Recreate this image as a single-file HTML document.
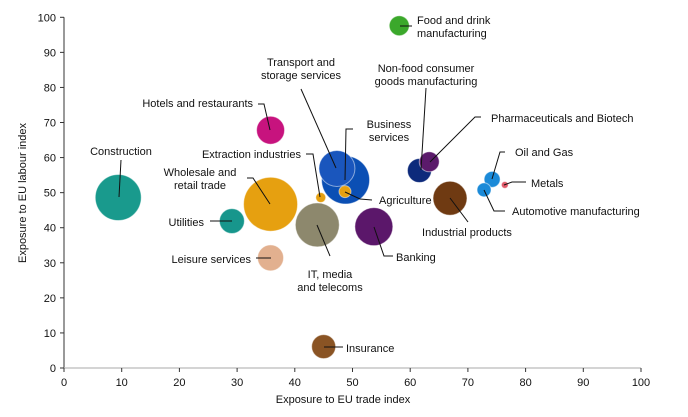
<!DOCTYPE html>
<html><head><meta charset="utf-8"><style>
html,body{margin:0;padding:0;background:#fff;}
svg{display:block;font-family:"Liberation Sans",Arial,sans-serif;}
</style></head><body>
<svg id="chart" width="688" height="417" viewBox="0 0 688 417">
<g id="axes"></g><g id="bubbles"></g><g id="labels"></g>
</svg>
<script>
const names=["Construction","Hotels and restaurants","Utilities","Wholesale and retail trade","Leisure services","Extraction industries","IT, media and telecoms","Insurance","Business services","Transport and storage services","Agriculture","Banking","Food and drink manufacturing","Non-food consumer goods manufacturing","Pharmaceuticals and Biotech","Industrial products","Oil and Gas","Automotive manufacturing","Metals"];
const tradeIdx=[9.4,35.8,29.1,35.8,35.8,44.5,43.9,45.0,48.8,47.3,48.7,53.7,58.1,61.6,63.3,66.9,74.2,72.8,76.4];
const labourIdx=[48.6,67.8,41.9,46.7,31.4,48.6,40.8,6.1,53.6,56.9,50.3,40.3,97.6,56.3,58.8,48.4,53.8,50.8,52.2];
const sizes=[529,196,156,729,169,25,484,144,576,324,36,361,100,144,100,289,64,49,12];
const colors=["#199a8d","#c7137e","#17968c","#e6a010","#e2b08f","#e6a010","#8d886d","#8a5424","#0b4fb4","#1a56bd","#e6a010","#5b176a","#3ba82b","#0d2a7b","#5b1a6b","#6f3a12","#1b8ad8","#1b8ad8","#e05a6a"];
const xTicks=[0,10,20,30,40,50,60,70,80,90,100];
const yTicks=[0,10,20,30,40,50,60,70,80,90,100];
const X0=64,X1=641,Y0=368,Y1=17.3;
function xs(v){return X0+(X1-X0)*v/100;}
function ys(v){return Y0-(Y0-Y1)*v/100;}
function rs(s){return Math.sqrt(s);}
const NS="http://www.w3.org/2000/svg";
function mk(tag,attrs,parent){const e=document.createElementNS(NS,tag);for(const k in attrs)e.setAttribute(k,attrs[k]);parent.appendChild(e);return e;}
const ax=document.getElementById('axes');
let l=mk('line',{x1:X0,y1:Y1,x2:X0,y2:Y0,stroke:'#333','stroke-width':1},ax);


l=mk('line',{x1:X0,y1:Y0,x2:X1,y2:Y0,stroke:'#bbb','stroke-width':1.2},ax);


xTicks.forEach(t=>{mk('line',{x1:xs(t),y1:Y0,x2:xs(t),y2:Y0+4,stroke:'#333'},ax);
 const tx=mk('text',{x:xs(t),y:386,'font-size':11,'text-anchor':'middle',fill:'#111'},ax);tx.textContent=t;
 
 });
yTicks.forEach(t=>{mk('line',{x1:X0-4,y1:ys(t),x2:X0,y2:ys(t),stroke:'#333'},ax);
 const tx=mk('text',{x:X0-8,y:ys(t)+4,'font-size':11,'text-anchor':'end',fill:'#111'},ax);tx.textContent=t;
 
 });
let xt=mk('text',{x:343,y:403,'font-size':11,'text-anchor':'middle',fill:'#111'},ax);xt.textContent='Exposure to EU trade index';


let yt=mk('text',{x:0,y:0,'font-size':11,'text-anchor':'middle',fill:'#111',transform:'translate(26,193) rotate(-90)'},ax);yt.textContent='Exposure to EU labour index';


const bg=document.getElementById('bubbles');
const order=[8,9,0,3,6,11,15,1,2,4,5,7,10,12,13,14,16,17,18];
order.forEach(i=>{const c=mk('circle',{cx:xs(tradeIdx[i]),cy:ys(labourIdx[i]),r:rs(sizes[i]),fill:colors[i],stroke:'#fff','stroke-opacity':0.5,'stroke-width':1},bg);
 
 });
const lg=document.getElementById('labels');
const L=[
 [["Construction"],121,155,"middle","121,160 119,197"],
 [["Hotels and restaurants"],253,107,"end","258,104 264,104 270,130"],
 [["Extraction industries"],301,158,"end","306,154 313,154 320,197"],
 [["Wholesale and","retail trade"],200,176,"middle","247,178 253,178 270,204"],
 [["Utilities"],204,226,"end","210,221 232,221"],
 [["Leisure services"],251,263,"end","256,258 271,258"],
 [["IT, media","and telecoms"],330,278,"middle","330,256 317,225"],
 [["Insurance"],346,352,"start","324,347 343,347"],
 [["Transport and","storage services"],301,66,"middle","301,89 336,168"],
 [["Business","services"],389,128,"middle","353,129 346,129 345,180"],
 [["Agriculture"],379,204,"start","345,192 360,199 372,200"],
 [["Banking"],396,261,"start","374,227 384,256 393,256"],
 [["Food and drink","manufacturing"],417,24,"start","400,26 412,26"],
 [["Non-food consumer","goods manufacturing"],426,72,"middle","426,88 421,170"],
 [["Pharmaceuticals and Biotech"],491,122,"start","481,117 475,117 430,162"],
 [["Oil and Gas"],515,156,"start","505,152 500,152 492,179"],
 [["Metals"],531,187,"start","504,185 512,182 526,182"],
 [["Automotive manufacturing"],512,215,"start","484,190 494,211 505,211"],
 [["Industrial products"],467,236,"middle","450,198 468,222"]
];
L.forEach(d=>{
 const p=mk('polyline',{points:d[4],fill:'none',stroke:'#111','stroke-width':1},lg);
 
 
 d[0].forEach((s,k)=>{const t=mk('text',{x:d[1],y:d[2]+k*13,'font-size':11,'text-anchor':d[3],fill:'#111'},lg);t.textContent=s;
  
  });
});
</script>
</body></html>
